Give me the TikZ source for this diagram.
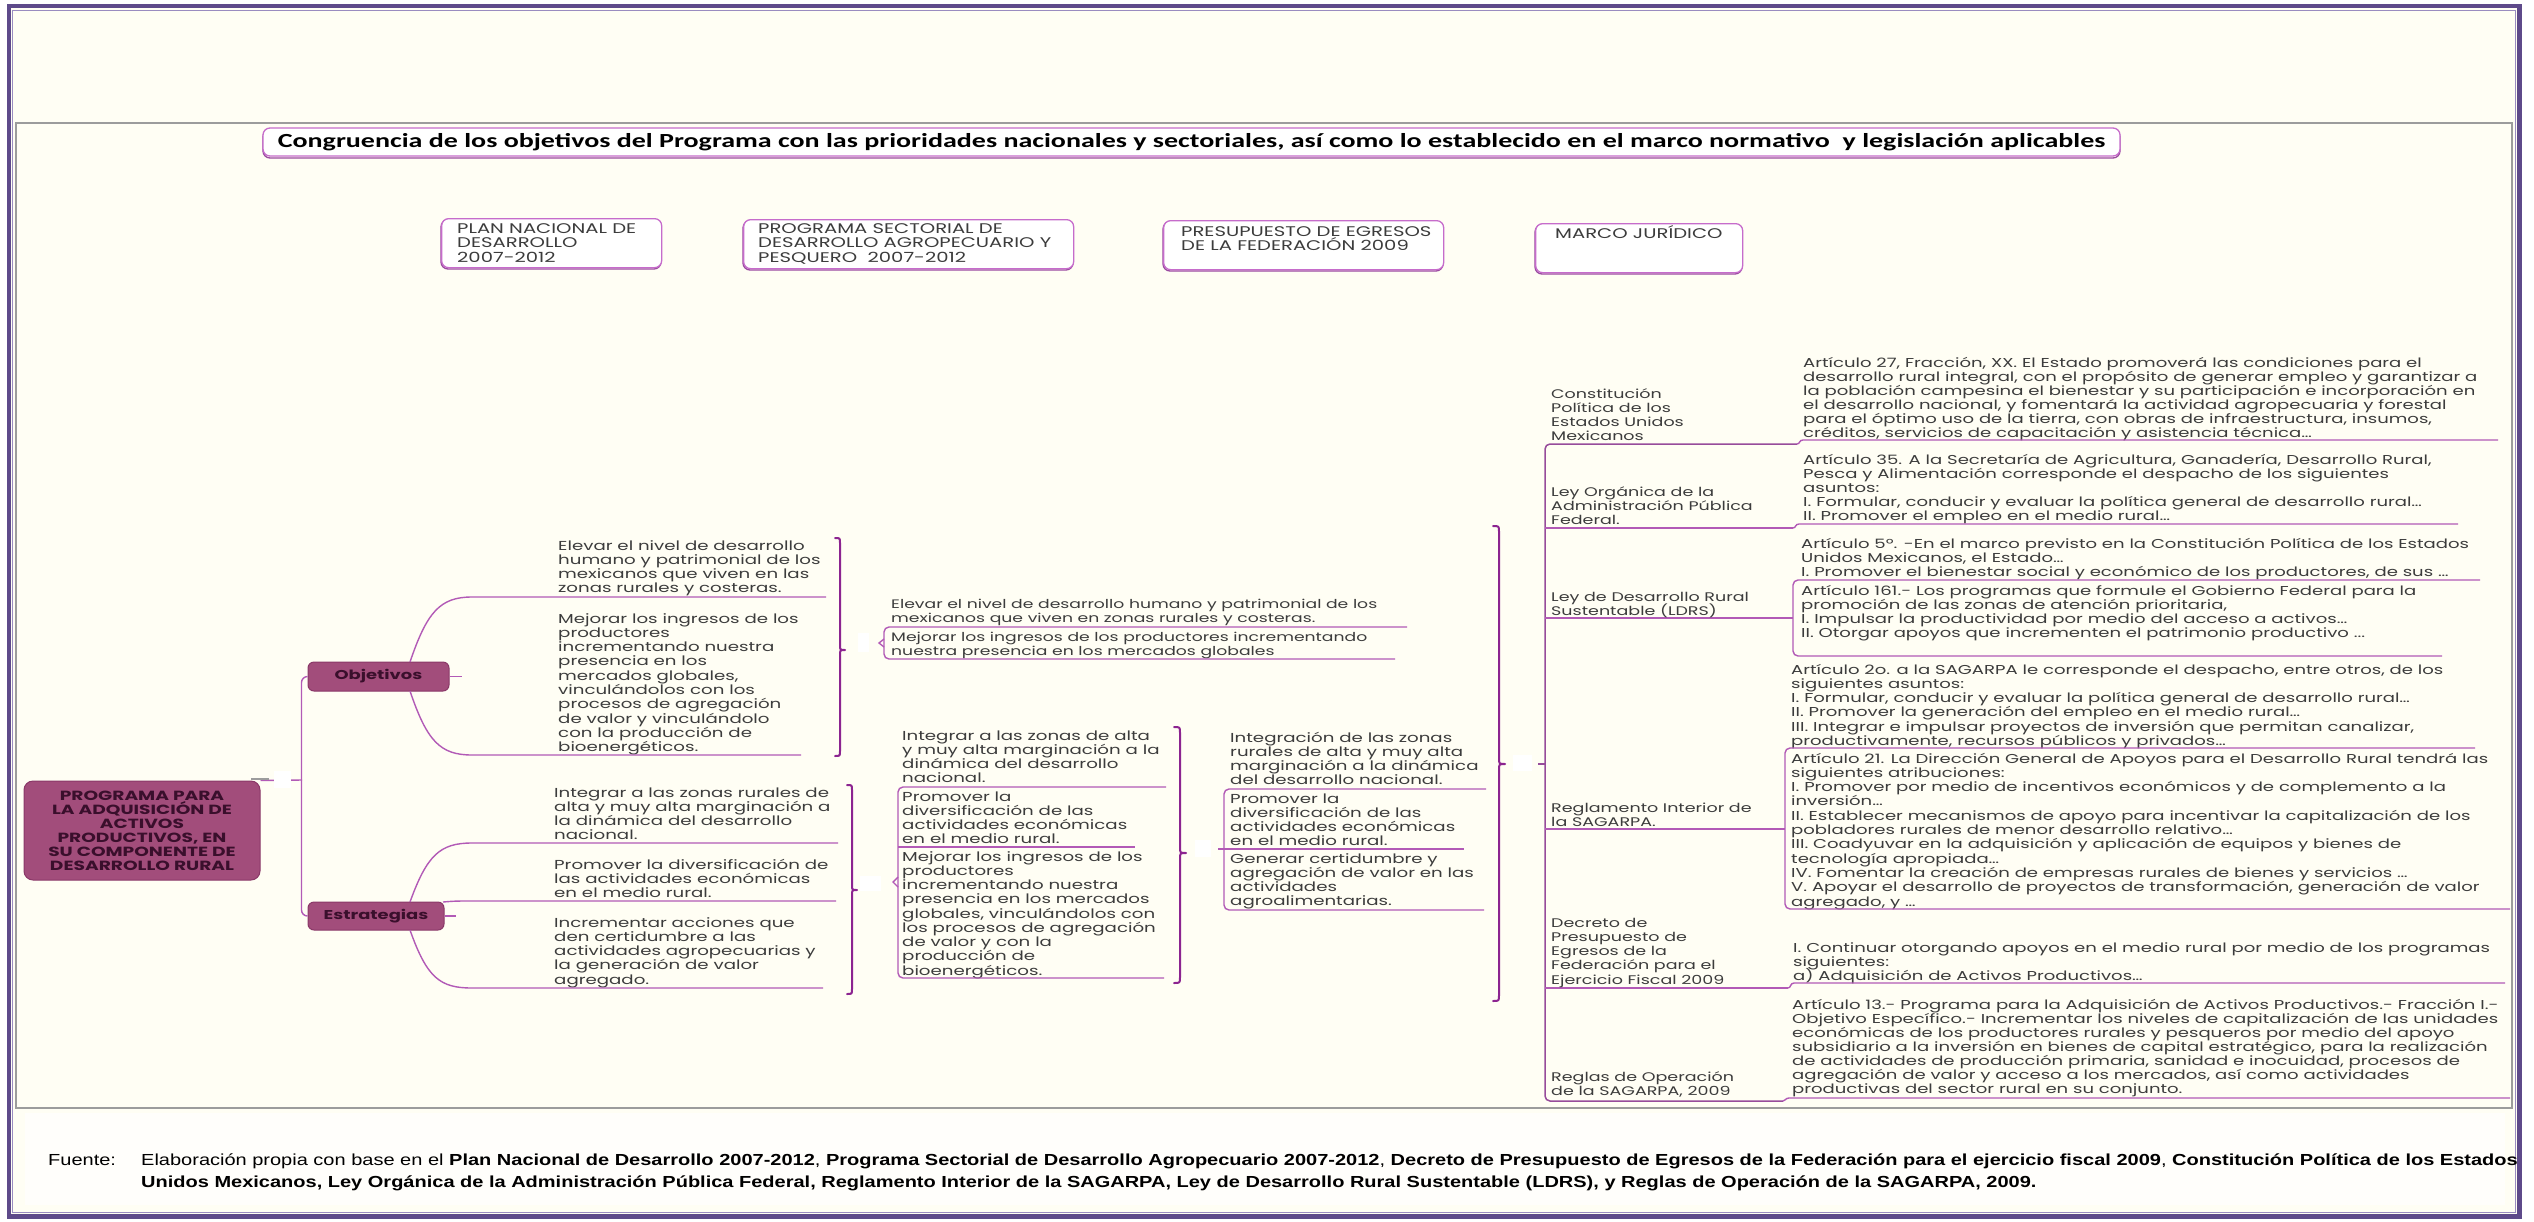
\documentclass[tikz,border=0pt]{standalone}
\usepackage{fontspec}
\setmainfont{Poppins}
\newfontfamily\gothic[FakeStretch=1.4]{Poppins}
\newfontfamily\titlefont[FakeStretch=1.4]{Carlito}
\newfontfamily\footfont[FakeStretch=1.25]{Liberation Sans}
\definecolor{bg}{HTML}{FFFEF4}
\definecolor{framec}{HTML}{5E4A8A}
\definecolor{framelt}{HTML}{9A8CC0}
\definecolor{gridc}{HTML}{9C9C9C}
\definecolor{connc}{HTML}{B25AB6}
\definecolor{brc}{HTML}{8C2490}
\definecolor{boxfill}{HTML}{A24D7B}
\definecolor{boxdraw}{HTML}{8A3868}
\definecolor{boxtxt}{HTML}{3A0F2C}
\definecolor{txt}{HTML}{3C3C3C}
\definecolor{hdraw}{HTML}{C66CCB}
\definecolor{hshadow}{HTML}{9A4AA0}
\newcommand\mltext[1]{\vtop{\lineskiplimit=-100pt\relax\let\\\cr\halign{##\hfil\cr#1\crcr}}}
\newcommand\mltextc[1]{\vtop{\lineskiplimit=-100pt\relax\let\\\cr\halign{\hfil##\hfil\cr#1\crcr}}}
\newcommand\bracer[5]{% x, ytop, ybot, ymid, amplitude
  \draw[braceline] (#1,#2) .. controls ({#1+#5/2},#2) .. ({#1+#5/2},{#2+#5/2})
    -- ({#1+#5/2},{#4-#5/2}) .. controls ({#1+#5/2},#4) .. ({#1+#5},#4)
    .. controls ({#1+#5/2},#4) .. ({#1+#5/2},{#4+#5/2})
    -- ({#1+#5/2},{#3-#5/2}) .. controls ({#1+#5/2},#3) .. (#1,#3);}
\tikzset{
  bodyA/.style={anchor=base west, inner sep=0pt, text=txt, font={\gothic\fontsize{13}{14.3}\selectfont}},
  bodyB/.style={anchor=base west, inner sep=0pt, text=txt, font={\gothic\fontsize{12.3}{14}\selectfont}},
  bodyR/.style={anchor=base west, inner sep=0pt, text=txt, font={\gothic\fontsize{12.9}{14.1}\selectfont}},
  bodyRb/.style={bodyR, font={\gothic\fontsize{12.9}{14.3}\selectfont}},
  lab/.style={anchor=base west, inner sep=0pt, text=txt, font={\gothic\fontsize{12.5}{14.3}\selectfont}},
  htext/.style={anchor=base west, inner sep=0pt, text=txt, font={\gothic\fontsize{14}{14.5}\selectfont}},
  hbox/.style={draw=hdraw, fill=white, line width=1.3pt, rounded corners=7pt, anchor=north west, inner sep=0pt},
  hshad/.style={draw=hshadow, line width=1.3pt, rounded corners=7pt},
  mbox/.style={draw=boxdraw, fill=boxfill, line width=1pt, rounded corners=6pt, text=boxtxt, inner sep=0pt},
  conn/.style={draw=connc, line width=1.4pt},
  uline/.style={draw=connc, line width=1.4pt},
  mjline/.style={draw=connc!85!black, line width=1.5pt, rounded corners=5pt},
  braceline/.style={draw=brc, line width=2pt, line join=round, line cap=round},
  wsq/.style={fill=white, draw=none},
  foot/.style={anchor=base west, inner sep=0pt, text=black, font={\footfont\fontsize{16}{22}\selectfont}},
}
\begin{document}
\begin{tikzpicture}[x=1pt,y=-1pt]
\useasboundingbox (0,0) rectangle (2534,1221);
% background and frame
\fill[white] (0,0) rectangle (2534,1221);
\fill[bg] (9,6) rectangle (2519.5,1216.5);
\fill[white!60!bg] (25,1113) rectangle (2505,1205);
\draw[framec, line width=4.5pt] (9,6) rectangle (2519.5,1216.5);
\draw[framelt, line width=1pt] (12.5,10.5) rectangle (2515,1212);
\draw[gridc, line width=1.5pt] (16,123) rectangle (2512,1108);

% title
\draw[hshad] (263,130) rectangle (2120,158);
\node[hbox, anchor=center, minimum width=1857pt, minimum height=28pt,
      font={\titlefont\bfseries\fontsize{20}{22}\selectfont}, text=black] (title) at (1191.5,142)
  {Congruencia de los objetivos del Programa con las prioridades nacionales y sectoriales, así como lo establecido en el marco normativo \ y legislación aplicables};

% header boxes
\draw[hshad] (441,220) rectangle (661,269);
\node[hbox, minimum width=220pt, minimum height=49pt] (h1) at (441,218) {};
\node[htext] (h1t) at (457,233) {\mltext{PLAN NACIONAL DE\\DESARROLLO\\2007-2012}};
\draw[hshad] (743,221) rectangle (1073,270);
\node[hbox, minimum width=330pt, minimum height=49pt] (h2) at (743,219) {};
\node[htext] (h2t) at (758,233) {\mltext{PROGRAMA SECTORIAL DE\\DESARROLLO AGROPECUARIO Y\\PESQUERO \ 2007-2012}};
\draw[hshad] (1163,222) rectangle (1443,271);
\node[hbox, minimum width=280pt, minimum height=49pt] (h3) at (1163,220) {};
\node[htext] (h3t) at (1181,236) {\mltext{PRESUPUESTO DE EGRESOS\\DE LA FEDERACIÓN 2009}};
\draw[hshad] (1535,225) rectangle (1742,274);
\node[hbox, minimum width=207pt, minimum height=49pt] (h4) at (1535,223) {};
\node[htext] (h4t) at (1555,238) {MARCO JURÍDICO};

% root and main boxes
\node[mbox, minimum width=236pt, minimum height=99pt, rounded corners=9pt,
      font={\gothic\bfseries\fontsize{13.3}{14}\selectfont}] (root) at (142,830.5)
  {\mltextc{PROGRAMA PARA\\LA ADQUISICIÓN DE\\ACTIVOS\\PRODUCTIVOS, EN\\SU COMPONENTE DE\\DESARROLLO RURAL}};
\node[mbox, minimum width=141pt, minimum height=29pt, font={\gothic\bfseries\fontsize{12.8}{14}\selectfont}] (obj) at (378.5,676.5) {Objetivos};
\node[mbox, minimum width=136pt, minimum height=28pt, font={\gothic\bfseries\fontsize{12.8}{14}\selectfont}] (est) at (376,916) {Estrategias};

% spine
\coordinate (sp) at (302,780);
\draw[conn] (root.north east) -- (sp);
\draw[conn, rounded corners=6pt] (obj.west) -- ++(-6,0) |- (est.west);
\draw[gridc, line width=1.2pt] (251,779) -- (269,779);
\fill[wsq] (274,771) rectangle (291,788);
\draw[conn] (obj.east) -- ++(12,0);
\draw[conn] (est.east) -- ++(11,0);

% left column texts
\node[bodyA] (o1) at (558,550) {\mltext{Elevar el nivel de desarrollo\\humano y patrimonial de los\\mexicanos que viven en las\\zonas rurales y costeras.}};
\node[bodyA] (o2) at (558,623) {\mltext{Mejorar los ingresos de los\\productores\\incrementando nuestra\\presencia en los\\mercados globales,\\vinculándolos con los\\procesos de agregación\\de valor y vinculándolo\\con la producción de\\bioenergéticos.}};
\node[bodyA] (e1) at (554,797) {\mltext{Integrar a las zonas rurales de\\alta y muy alta marginación a\\la dinámica del desarrollo\\nacional.}};
\node[bodyA] (e2) at (554,869) {\mltext{Promover la diversificación de\\las actividades económicas\\en el medio rural.}};
\node[bodyA] (e3) at (554,927) {\mltext{Incrementar acciones que\\den certidumbre a las\\actividades agropecuarias y\\la generación de valor\\agregado.}};

\draw[conn] (410,662) .. controls (427,612) and (440,597) .. (472,597) -- (826,597);
\draw[conn] (410,691) .. controls (427,741) and (440,755) .. (472,755) -- (801,755);
\draw[conn] (410,902) .. controls (427,855) and (440,843) .. (472,843) -- (838,843);
\draw[conn] (443,902) .. controls (455,901) .. (472,901) -- (836,901);
\draw[conn] (410,930) .. controls (427,978) and (440,988) .. (472,988) -- (823,988);

\bracer{835}{538}{756}{650}{10}
\bracer{847}{785}{994}{890}{10}

% middle column (Programa Sectorial)
\node[bodyB] (p1) at (891,608) {\mltext{Elevar el nivel de desarrollo humano y patrimonial de los\\mexicanos que viven en zonas rurales y costeras.}};
\node[bodyB] (p2) at (891,641) {\mltext{Mejorar los ingresos de los productores incrementando\\nuestra presencia en los mercados globales}};
\draw[uline, rounded corners=5pt] (1407,627) -- (884,627) -- (884,659) -- (1395,659);
\draw[uline] (884,639) -- (879,643) -- (884,647);
\fill[wsq] (858,633) rectangle (869,652);

\node[bodyA, font={\gothic\fontsize{13}{14.2}\selectfont}] (p3) at (902,740) {\mltext{Integrar a las zonas de alta\\y muy alta marginación a la\\dinámica del desarrollo\\nacional.}};
\node[bodyA, font={\gothic\fontsize{13}{14.2}\selectfont}] (p4) at (902,801) {\mltext{Promover la\\diversificación de las\\actividades económicas\\en el medio rural.}};
\node[bodyA, font={\gothic\fontsize{13}{14.25}\selectfont}] (p5) at (902,861) {\mltext{Mejorar los ingresos de los\\productores\\incrementando nuestra\\presencia en los mercados\\globales, vinculándolos con\\los procesos de agregación\\de valor y con la\\producción de\\bioenergéticos.}};
\draw[uline, rounded corners=5pt] (1166,787) -- (898,787) -- (898,978) -- (1164,978);
\draw[uline] (898,847) -- (1135,847);
\draw[uline] (898,877) -- (893,882) -- (898,887);
\fill[wsq] (860,876) rectangle (881,891);
\bracer{1174}{727}{983}{853}{12}
\fill[wsq] (1195,840) rectangle (1211,857);

% PEF column
\node[bodyA, font={\gothic\fontsize{13}{14.2}\selectfont}] (f1) at (1230,742) {\mltext{Integración de las zonas\\rurales de alta y muy alta\\marginación a la dinámica\\del desarrollo nacional.}};
\node[bodyA, font={\gothic\fontsize{13}{14.2}\selectfont}] (f2) at (1230,803) {\mltext{Promover la\\diversificación de las\\actividades económicas\\en el medio rural.}};
\node[bodyA, font={\gothic\fontsize{13}{14.2}\selectfont}] (f3) at (1230,863) {\mltext{Generar certidumbre y\\agregación de valor en las\\actividades\\agroalimentarias.}};
\draw[uline, rounded corners=5pt] (1486,789) -- (1224,789) -- (1224,910) -- (1484,910);
\draw[uline] (1218,849) -- (1464,849);
\bracer{1493}{526}{1001}{764}{12}
\fill[wsq] (1513,755) rectangle (1532,771);

% Marco juridico column
\draw[mjline] (1797,444) -- (1545,444) -- (1545,1101) -- (1783,1101);
\draw[mjline] (1538,764) -- (1545,764);
\draw[uline] (1545,528) -- (1793,528);
\draw[uline] (1545,618) -- (1793,618);
\draw[uline] (1545,829) -- (1785,829);
\draw[uline] (1545,988) -- (1788,988);

\node[lab] (l1) at (1551,398) {\mltext{Constitución\\Política de los\\Estados Unidos\\Mexicanos}};
\node[lab] (l2) at (1551,496) {\mltext{Ley Orgánica de la\\Administración Pública\\Federal.}};
\node[lab] (l3) at (1551,601) {\mltext{Ley de Desarrollo Rural\\Sustentable (LDRS)}};
\node[lab] (l4) at (1551,812) {\mltext{Reglamento Interior de\\la SAGARPA.}};
\node[lab] (l5) at (1551,927) {\mltext{Decreto de\\Presupuesto de\\Egresos de la\\Federación para el\\Ejercicio Fiscal 2009}};
\node[lab] (l6) at (1551,1081) {\mltext{Reglas de Operación\\de la SAGARPA, 2009}};

\node[bodyR] (t1) at (1803,367) {\mltext{Artículo 27, Fracción, XX. El Estado promoverá las condiciones para el\\desarrollo rural integral, con el propósito de generar empleo y garantizar a\\la población campesina el bienestar y su participación e incorporación en\\el desarrollo nacional, y fomentará la actividad agropecuaria y forestal\\para el óptimo uso de la tierra, con obras de infraestructura, insumos,\\créditos, servicios de capacitación y asistencia técnica…}};
\draw[uline] (1797,444) .. controls (1800,444) and (1799,440) .. (1803,440) -- (2498,440);

\node[bodyR] (t2) at (1803,464) {\mltext{Artículo 35. A la Secretaría de Agricultura, Ganadería, Desarrollo Rural,\\Pesca y Alimentación corresponde el despacho de los siguientes\\asuntos:\\I. Formular, conducir y evaluar la política general de desarrollo rural…\\II. Promover el empleo en el medio rural…}};
\draw[uline] (1793,528) .. controls (1796,528) and (1795,524) .. (1799,524) -- (2458,524);

\node[bodyR] (t3) at (1801,548) {\mltext{Artículo 5º. -En el marco previsto en la Constitución Política de los Estados\\Unidos Mexicanos, el Estado…\\I. Promover el bienestar social y económico de los productores, de sus …}};
\node[bodyR] (t4) at (1801,595) {\mltext{Artículo 161.- Los programas que formule el Gobierno Federal para la\\promoción de las zonas de atención prioritaria,\\I. Impulsar la productividad por medio del acceso a activos…\\II. Otorgar apoyos que incrementen el patrimonio productivo ...}};
\draw[uline, rounded corners=5pt] (2480,580) -- (1793,580) -- (1793,656) -- (2442,656);

\node[bodyRb] (t5) at (1791,674) {\mltext{Artículo 2o. a la SAGARPA le corresponde el despacho, entre otros, de los\\siguientes asuntos:\\I. Formular, conducir y evaluar la política general de desarrollo rural…\\II. Promover la generación del empleo en el medio rural…\\III. Integrar e impulsar proyectos de inversión que permitan canalizar,\\productivamente, recursos públicos y privados…}};
\node[bodyRb] (t6) at (1791,763) {\mltext{Artículo 21. La Dirección General de Apoyos para el Desarrollo Rural tendrá las\\siguientes atribuciones:\\I. Promover por medio de incentivos económicos y de complemento a la\\inversión…\\II. Establecer mecanismos de apoyo para incentivar la capitalización de los\\pobladores rurales de menor desarrollo relativo…\\III. Coadyuvar en la adquisición y aplicación de equipos y bienes de\\tecnología apropiada…\\IV. Fomentar la creación de empresas rurales de bienes y servicios …\\V. Apoyar el desarrollo de proyectos de transformación, generación de valor\\agregado, y …}};
\draw[uline, rounded corners=5pt] (2475,748) -- (1785,748) -- (1785,909) -- (2510,909);

\node[bodyR] (t7) at (1793,952) {\mltext{I. Continuar otorgando apoyos en el medio rural por medio de los programas\\siguientes:\\a) Adquisición de Activos Productivos…}};
\draw[uline] (1788,988) .. controls (1791,988) and (1790,983) .. (1794,983) -- (2505,983);

\node[bodyR, font={\gothic\fontsize{12.9}{14.15}\selectfont}] (t8) at (1792,1009) {\mltext{Artículo 13.- Programa para la Adquisición de Activos Productivos.- Fracción I.-\\Objetivo Específico.- Incrementar los niveles de capitalización de las unidades\\económicas de los productores rurales y pesqueros por medio del apoyo\\subsidiario a la inversión en bienes de capital estratégico, para la realización\\de actividades de producción primaria, sanidad e inocuidad, procesos de\\agregación de valor y acceso a los mercados, así como actividades\\productivas del sector rural en su conjunto.}};
\draw[uline] (1783,1101) .. controls (1786,1101) and (1785,1098) .. (1789,1098) -- (2510,1098);

% footer
\node[foot] (fu) at (48,1165) {Fuente:};
\node[foot] (fsrc) at (141,1165)
 {\mltext{Elaboración propia con base en el \textbf{Plan Nacional de Desarrollo 2007-2012}, \textbf{Programa Sectorial de Desarrollo Agropecuario 2007-2012}, \textbf{Decreto de Presupuesto de Egresos de la Federación para el ejercicio fiscal 2009}, \textbf{Constitución Política de los Estados}\\\textbf{Unidos Mexicanos, Ley Orgánica de la Administración Pública Federal, Reglamento Interior de la SAGARPA, Ley de Desarrollo Rural Sustentable (LDRS), y Reglas de Operación de la SAGARPA, 2009.}}};
\end{tikzpicture}
\end{document}
